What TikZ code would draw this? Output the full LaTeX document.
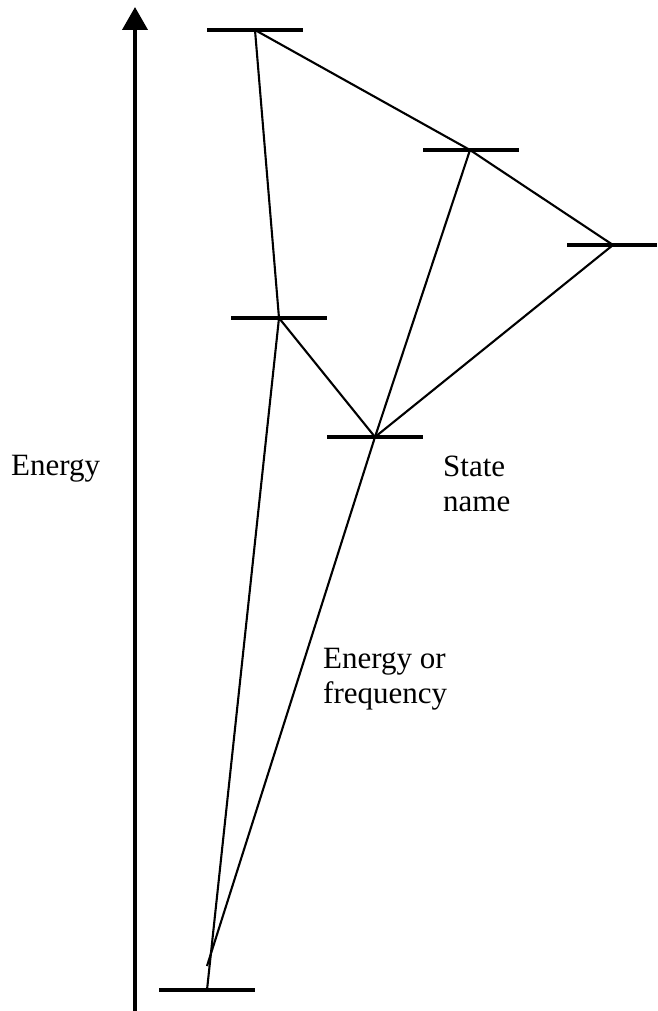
\documentclass[tikz,border=0pt]{standalone}
\usepackage{fontspec}
\setmainfont{Liberation Serif}
\usetikzlibrary{arrows.meta}
\begin{document}
\begin{tikzpicture}[x=1pt,y=-1pt,
  level/.style={line width=4pt},
  trans/.style={line width=2.1pt},
  lbl/.style={inner sep=0pt,anchor=base west,align=left,font=\fontsize{31}{35}\selectfont}]
\useasboundingbox (0,0) rectangle (657,1011);
% states (junction points)
\coordinate (T) at (255,30);
\coordinate (A) at (470,150);
\coordinate (R) at (613,245);
\coordinate (M) at (279,318);
\coordinate (L) at (375,437);
\coordinate (G) at (207,990);
\coordinate (Gend) at (207,966);
% energy axis
\coordinate (ax0) at (135,1011);
\coordinate (ax1) at (135,7);
\draw[line width=4pt,-{Triangle[width=25pt,length=23pt]}] (ax0) -- (ax1);
% levels
\draw[level] ([xshift=-48pt]T) -- ([xshift=48pt]T);
\draw[level] ([xshift=-47pt]A) -- ([xshift=49pt]A);
\draw[level] ([xshift=-46pt]R) -- ([xshift=44pt]R);
\draw[level] ([xshift=-48pt]M) -- ([xshift=48pt]M);
\draw[level] ([xshift=-48pt]L) -- ([xshift=48pt]L);
\draw[level] ([xshift=-48pt]G) -- ([xshift=48pt]G);
% transitions
\draw[trans] (T) -- (M);
\draw[trans] (T) -- (A);
\draw[trans] (A) -- (R);
\draw[trans] (A) -- (L);
\draw[trans] (R) -- (L);
\draw[trans] (M) -- (L);
\draw[trans] (M) -- (G);
\draw[trans] (L) -- (Gend);
% labels
\node[lbl] (energy) at (11,475) {Energy};
\node[lbl] (state) at (443,511) {State\\name};
\node[lbl] (freq) at (323,703) {Energy or\\frequency};
\end{tikzpicture}
\end{document}
